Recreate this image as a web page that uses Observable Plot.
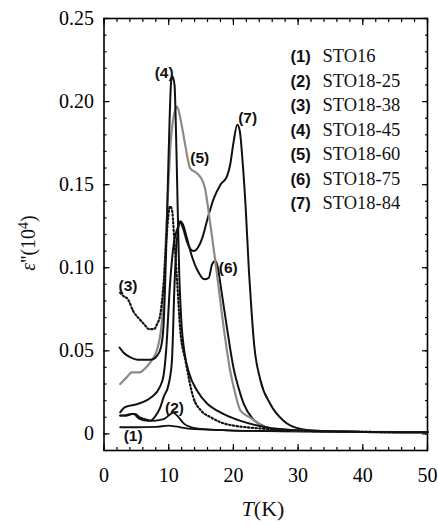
<!DOCTYPE html>
<html><head><meta charset="utf-8">
<script src="https://cdn.jsdelivr.net/npm/d3@7"></script>
<script src="https://cdn.jsdelivr.net/npm/@observablehq/plot@0.6"></script>
<style>body{margin:0;background:#fff}
svg text.serif, svg .serif text{font-family:"Liberation Serif","Times New Roman",Times,"DejaVu Serif",serif !important}
</style>
</head><body><div id="chart"></div>
<script>
// Series names
const names = ["STO16","STO18-25","STO18-38","STO18-45","STO18-60","STO18-75","STO18-84"];
// (1) STO16
const t1 = [2.5,5,8,10,11,13,16,20,25,30,40,50];
const e1 = [0.004,0.004,0.0042,0.005,0.0045,0.0032,0.0026,0.002,0.0017,0.0015,0.0012,0.001];
// (2) STO18-25
const t2 = [2.5,3.5,4.5,5.5,6.8,8,9.3,10,10.7,11.3,12.4,13.5,15,20,30,40,50];
const e2 = [0.011,0.011,0.012,0.009,0.0078,0.008,0.009,0.011,0.0128,0.011,0.006,0.004,0.003,0.002,0.0015,0.0012,0.001];
// (3) STO18-38 (dotted)
const t3 = [2.5,3,3.7,4.5,5.5,6.2,7,7.7,8.2,8.7,9.2,9.7,10.2,10.5,10.9,11.3,11.8,12.6,13.8,15,16.5,18,20,22,25,30,40,50];
const e3 = [0.085,0.083,0.081,0.074,0.069,0.066,0.063,0.063,0.066,0.072,0.09,0.12,0.137,0.135,0.115,0.092,0.062,0.044,0.022,0.014,0.01,0.007,0.005,0.004,0.003,0.002,0.0012,0.001];
// (4) STO18-45
const t4 = [2.4,3,4.1,5.2,7.2,8.2,8.8,9.2,9.6,10,10.4,10.6,10.9,11.2,11.6,12,12.4,13.2,14.4,16,17.5,19,21,25,30,40,50];
const e4 = [0.052,0.049,0.046,0.0446,0.0446,0.047,0.052,0.065,0.11,0.17,0.213,0.215,0.21,0.17,0.1,0.065,0.05,0.036,0.026,0.018,0.014,0.011,0.008,0.004,0.002,0.0012,0.001];
// (5) STO18-60 (grey)
const t5 = [2.5,3.5,4.3,5.5,6.5,7.5,8.3,9,9.6,10.3,11,11.3,11.8,12.5,13.3,14.3,15,15.6,16.3,17,17.5,18.5,19.5,20.3,21.1,22.6,25,27,30,40,50];
const e5 = [0.030,0.034,0.037,0.037,0.040,0.045,0.052,0.07,0.12,0.175,0.195,0.197,0.19,0.175,0.16,0.157,0.154,0.148,0.13,0.11,0.095,0.064,0.038,0.024,0.014,0.0098,0.004,0.003,0.002,0.0012,0.001];
// (6) STO18-75
const t6 = [2.5,3.2,4.2,4.8,5.5,6.2,7.2,7.8,8.7,9.2,10,10.5,10.9,11.3,11.8,12.2,12.8,13.5,14.5,15.5,16.2,16.7,17.2,17.6,18,19,20,21,21.6,23,24,26,30,40,50];
const e6 = [0.011,0.011,0.012,0.012,0.010,0.009,0.008,0.010,0.016,0.022,0.030,0.044,0.09,0.118,0.128,0.126,0.118,0.108,0.098,0.093,0.094,0.102,0.104,0.1,0.09,0.064,0.04,0.025,0.018,0.009,0.006,0.003,0.002,0.0012,0.001];
// (7) STO18-84
const t7 = [2.5,3.2,4,5.2,7.3,8.6,9.2,9.6,10.2,10.8,11.4,11.8,12.2,12.8,13.4,13.9,14.5,15.2,15.9,17,18,19,19.5,20,20.6,21,21.4,21.9,22.4,22.8,23.2,24.2,25.7,27.7,30.4,35,40,50];
const e7 = [0.013,0.016,0.017,0.018,0.022,0.028,0.035,0.05,0.09,0.115,0.124,0.127,0.124,0.116,0.111,0.11,0.112,0.118,0.128,0.142,0.15,0.155,0.162,0.175,0.186,0.182,0.165,0.136,0.098,0.074,0.054,0.032,0.018,0.008,0.003,0.0015,0.0012,0.001];
// curve label tags and anchor points (T, eps)
const tags = ["(1)","(2)","(3)","(4)","(5)","(6)","(7)"];
const tagT = [4.5,10.9,3.7,9.3,14.8,19.2,22.2];
const tagE = [-0.0012,0.0157,0.089,0.217,0.166,0.1,0.19];
// axis ticks
const xMajor = [0,10,20,30,40,50];
const yMajor = [0,0.05,0.10,0.15,0.20,0.25];
const yMajorLabels = ["0","0.05","0.10","0.15","0.20","0.25"];

const Ts=[t1,t2,t3,t4,t5,t6,t7], Es=[e1,e2,e3,e4,e5,e6,e7];
const rows = [];
Ts.forEach((ts,i)=>ts.forEach((t,j)=>rows.push({T:t,e:Es[i][j],s:names[i]})));
const sub = n => rows.filter(d=>d.s===n);
const labelRows = tags.map((t,i)=>({tag:t,T:tagT[i],e:tagE[i]}));
const xMinor = d3.range(0,51,2);
const yMinor = d3.range(-1,26,1).map(v=>+(v/100).toFixed(2));
const blank = () => "";

const W=438,H=525;
const sans = "Liberation Sans, Arial, sans-serif";
const tk = (axis, anchor, ticks, size) => axis({anchor,ticks,tickSize:size,tickFormat:blank,label:null,strokeWidth:1.2});
const plot = Plot.plot({
  width:W,height:H,
  marginLeft:103.5,marginRight:11,marginTop:18,marginBottom:75,
  style:{background:"#fff",overflow:"visible"},
  x:{domain:[0,50]},
  y:{domain:[-0.01,0.25]},
  marks:[
    tk(Plot.axisX,"bottom",xMinor,-3), tk(Plot.axisX,"bottom",xMajor,-6),
    tk(Plot.axisX,"top",xMinor,-3), tk(Plot.axisX,"top",xMajor,-6),
    tk(Plot.axisY,"left",yMinor,-3), tk(Plot.axisY,"left",yMajor,-6),
    tk(Plot.axisY,"right",yMinor,-3), tk(Plot.axisY,"right",yMajor,-6),
    Plot.axisX({anchor:"bottom",ticks:xMajor,tickSize:0,tickPadding:17,label:null,fontSize:20,className:"serif",tickFormat:d=>String(d)}),
    Plot.axisY({anchor:"left",ticks:yMajor,tickSize:0,tickPadding:10,label:null,fontSize:20,className:"serif",tickFormat:(d,i)=>yMajorLabels[i]}),
    Plot.frame({strokeWidth:1.6}),
    Plot.line(sub(names[0]),{x:"T",y:"e",stroke:"#111",strokeWidth:1.8,curve:"monotone-x"}),
    Plot.line(sub(names[1]),{x:"T",y:"e",stroke:"#111",strokeWidth:1.8,curve:"monotone-x"}),
    Plot.line(sub(names[5]),{x:"T",y:"e",stroke:"#111",strokeWidth:2,curve:"monotone-x"}),
    Plot.line(sub(names[6]),{x:"T",y:"e",stroke:"#111",strokeWidth:2,curve:"monotone-x"}),
    Plot.line(sub(names[4]),{x:"T",y:"e",stroke:"#8a8a8a",strokeWidth:2.2,curve:"monotone-x"}),
    Plot.line(sub(names[3]),{x:"T",y:"e",stroke:"#111",strokeWidth:2,curve:"monotone-x"}),
    Plot.line(sub(names[2]),{x:"T",y:"e",stroke:"#111",strokeWidth:2.2,strokeDasharray:"1.4,2.4",curve:"monotone-x"}),
    Plot.text(labelRows,{x:"T",y:"e",text:"tag",fontFamily:sans,fontWeight:"bold",fontSize:15.5,fill:"#111"})
  ]
});
const svg = d3.select(plot);
// axis titles
const yl = svg.append("text").attr("class","serif").attr("transform","translate(35,243) rotate(-90)")
  .attr("text-anchor","middle").attr("font-size",20).attr("fill","#111");
yl.append("tspan").attr("font-style","italic").text("ε");
yl.append("tspan").text("''(10");
yl.append("tspan").attr("font-size",14).attr("dy",-7).text("4");
yl.append("tspan").attr("dy",7).text(")");
const xl = svg.append("text").attr("class","serif").attr("x",263).attr("y",516).attr("text-anchor","middle")
  .attr("font-size",22).attr("fill","#111");
xl.append("tspan").attr("font-style","italic").text("T");
xl.append("tspan").text("(K)");
// legend
names.forEach((n,i)=>{
  const y = 62 + i*24.5;
  svg.append("text").attr("x",290.5).attr("y",y).attr("text-anchor","start").attr("font-family",sans).attr("font-weight","bold")
    .attr("font-size",16.5).attr("fill","#111").text(tags[i]);
  svg.append("text").attr("class","serif").attr("x",322.5).attr("y",y).attr("text-anchor","start")
    .attr("font-size",18.5).attr("fill","#111").text(n);
});
document.getElementById("chart").appendChild(plot);
</script></body></html>
